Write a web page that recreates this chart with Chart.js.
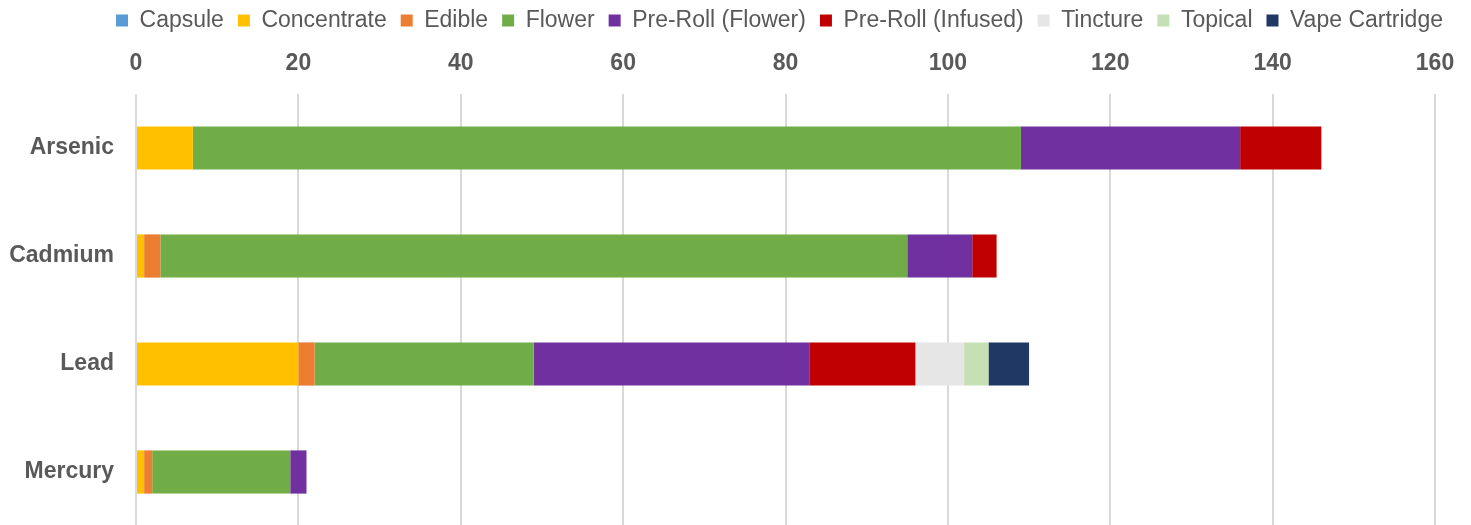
<!DOCTYPE html>
<html><head><meta charset="utf-8">
<script src="https://cdn.jsdelivr.net/npm/chart.js@4/dist/chart.umd.min.js"></script>
<style>html,body{margin:0;padding:0;overflow:hidden;background:#fff}canvas{display:block}</style>
</head><body><canvas id="c" width="1471" height="532"></canvas>
<script>
const categories = ['Arsenic', 'Cadmium', 'Lead', 'Mercury'];
const seriesNames = ['Capsule', 'Concentrate', 'Edible', 'Flower', 'Pre-Roll (Flower)', 'Pre-Roll (Infused)', 'Tincture', 'Topical', 'Vape Cartridge'];
const capsule = [0, 0, 0, 0];
const concentrate = [7, 1, 20, 1];
const edible = [0, 2, 2, 1];
const flower = [102, 92, 27, 17];
const preRollFlower = [27, 8, 34, 2];
const preRollInfused = [10, 3, 13, 0];
const tincture = [0, 0, 6, 0];
const topical = [0, 0, 3, 0];
const vapeCartridge = [0, 0, 5, 0];
const xTicks = [0, 20, 40, 60, 80, 100, 120, 140, 160];

const seriesValues = [capsule, concentrate, edible, flower, preRollFlower, preRollInfused, tincture, topical, vapeCartridge];
const colors = ['#5B9BD5', '#FFC000', '#ED7D31', '#70AD47', '#7030A0', '#C00000', '#E7E6E6', '#C5E0B4', '#203864'];
const textColor = '#595959';
const fam = '"Liberation Sans", Arial, sans-serif';

const legendShift = {
  id: 'legendShift',
  afterLayout(chart) { const l = chart.legend; if (l) { l.left += 62; l.right += 62; } }
};

new Chart(document.getElementById('c'), {
  type: 'bar',
  data: {
    labels: categories,
    datasets: seriesNames.map((n, i) => ({
      label: n, data: seriesValues[i], backgroundColor: colors[i],
      borderWidth: 0, categoryPercentage: 1, barPercentage: 0.4
    }))
  },
  plugins: [legendShift],
  options: {
    indexAxis: 'y', responsive: false, animation: false, devicePixelRatio: 1,
    layout: { padding: { left: 0, right: 36, top: -5, bottom: 6 } },
    plugins: {
      legend: {
        position: 'top',
        labels: { boxWidth: 12, boxHeight: 12, padding: 14, color: textColor, font: { family: fam, size: 23 } }
      },
      tooltip: { enabled: false }
    },
    scales: {
      x: {
        position: 'top', stacked: true, min: 0, max: 160,
        afterBuildTicks: s => { s.ticks = xTicks.map(v => ({ value: v })); },
        afterFit: s => { s.height = 52; s.paddingLeft = 0; s.paddingRight = 0; },
        ticks: { color: textColor, font: { family: fam, size: 23, weight: 'bold' }, padding: 17 },
        grid: { color: '#D9D9D9', lineWidth: 2, drawTicks: false },
        border: { display: false }
      },
      y: {
        stacked: true,
        afterFit: s => { s.width = 136; s.paddingTop = 0; s.paddingBottom = 0; },
        ticks: { color: textColor, font: { family: fam, size: 23, weight: 'bold' }, padding: 22 },
        grid: { display: false, drawTicks: false },
        border: { display: false }
      }
    }
  }
});
</script></body></html>
